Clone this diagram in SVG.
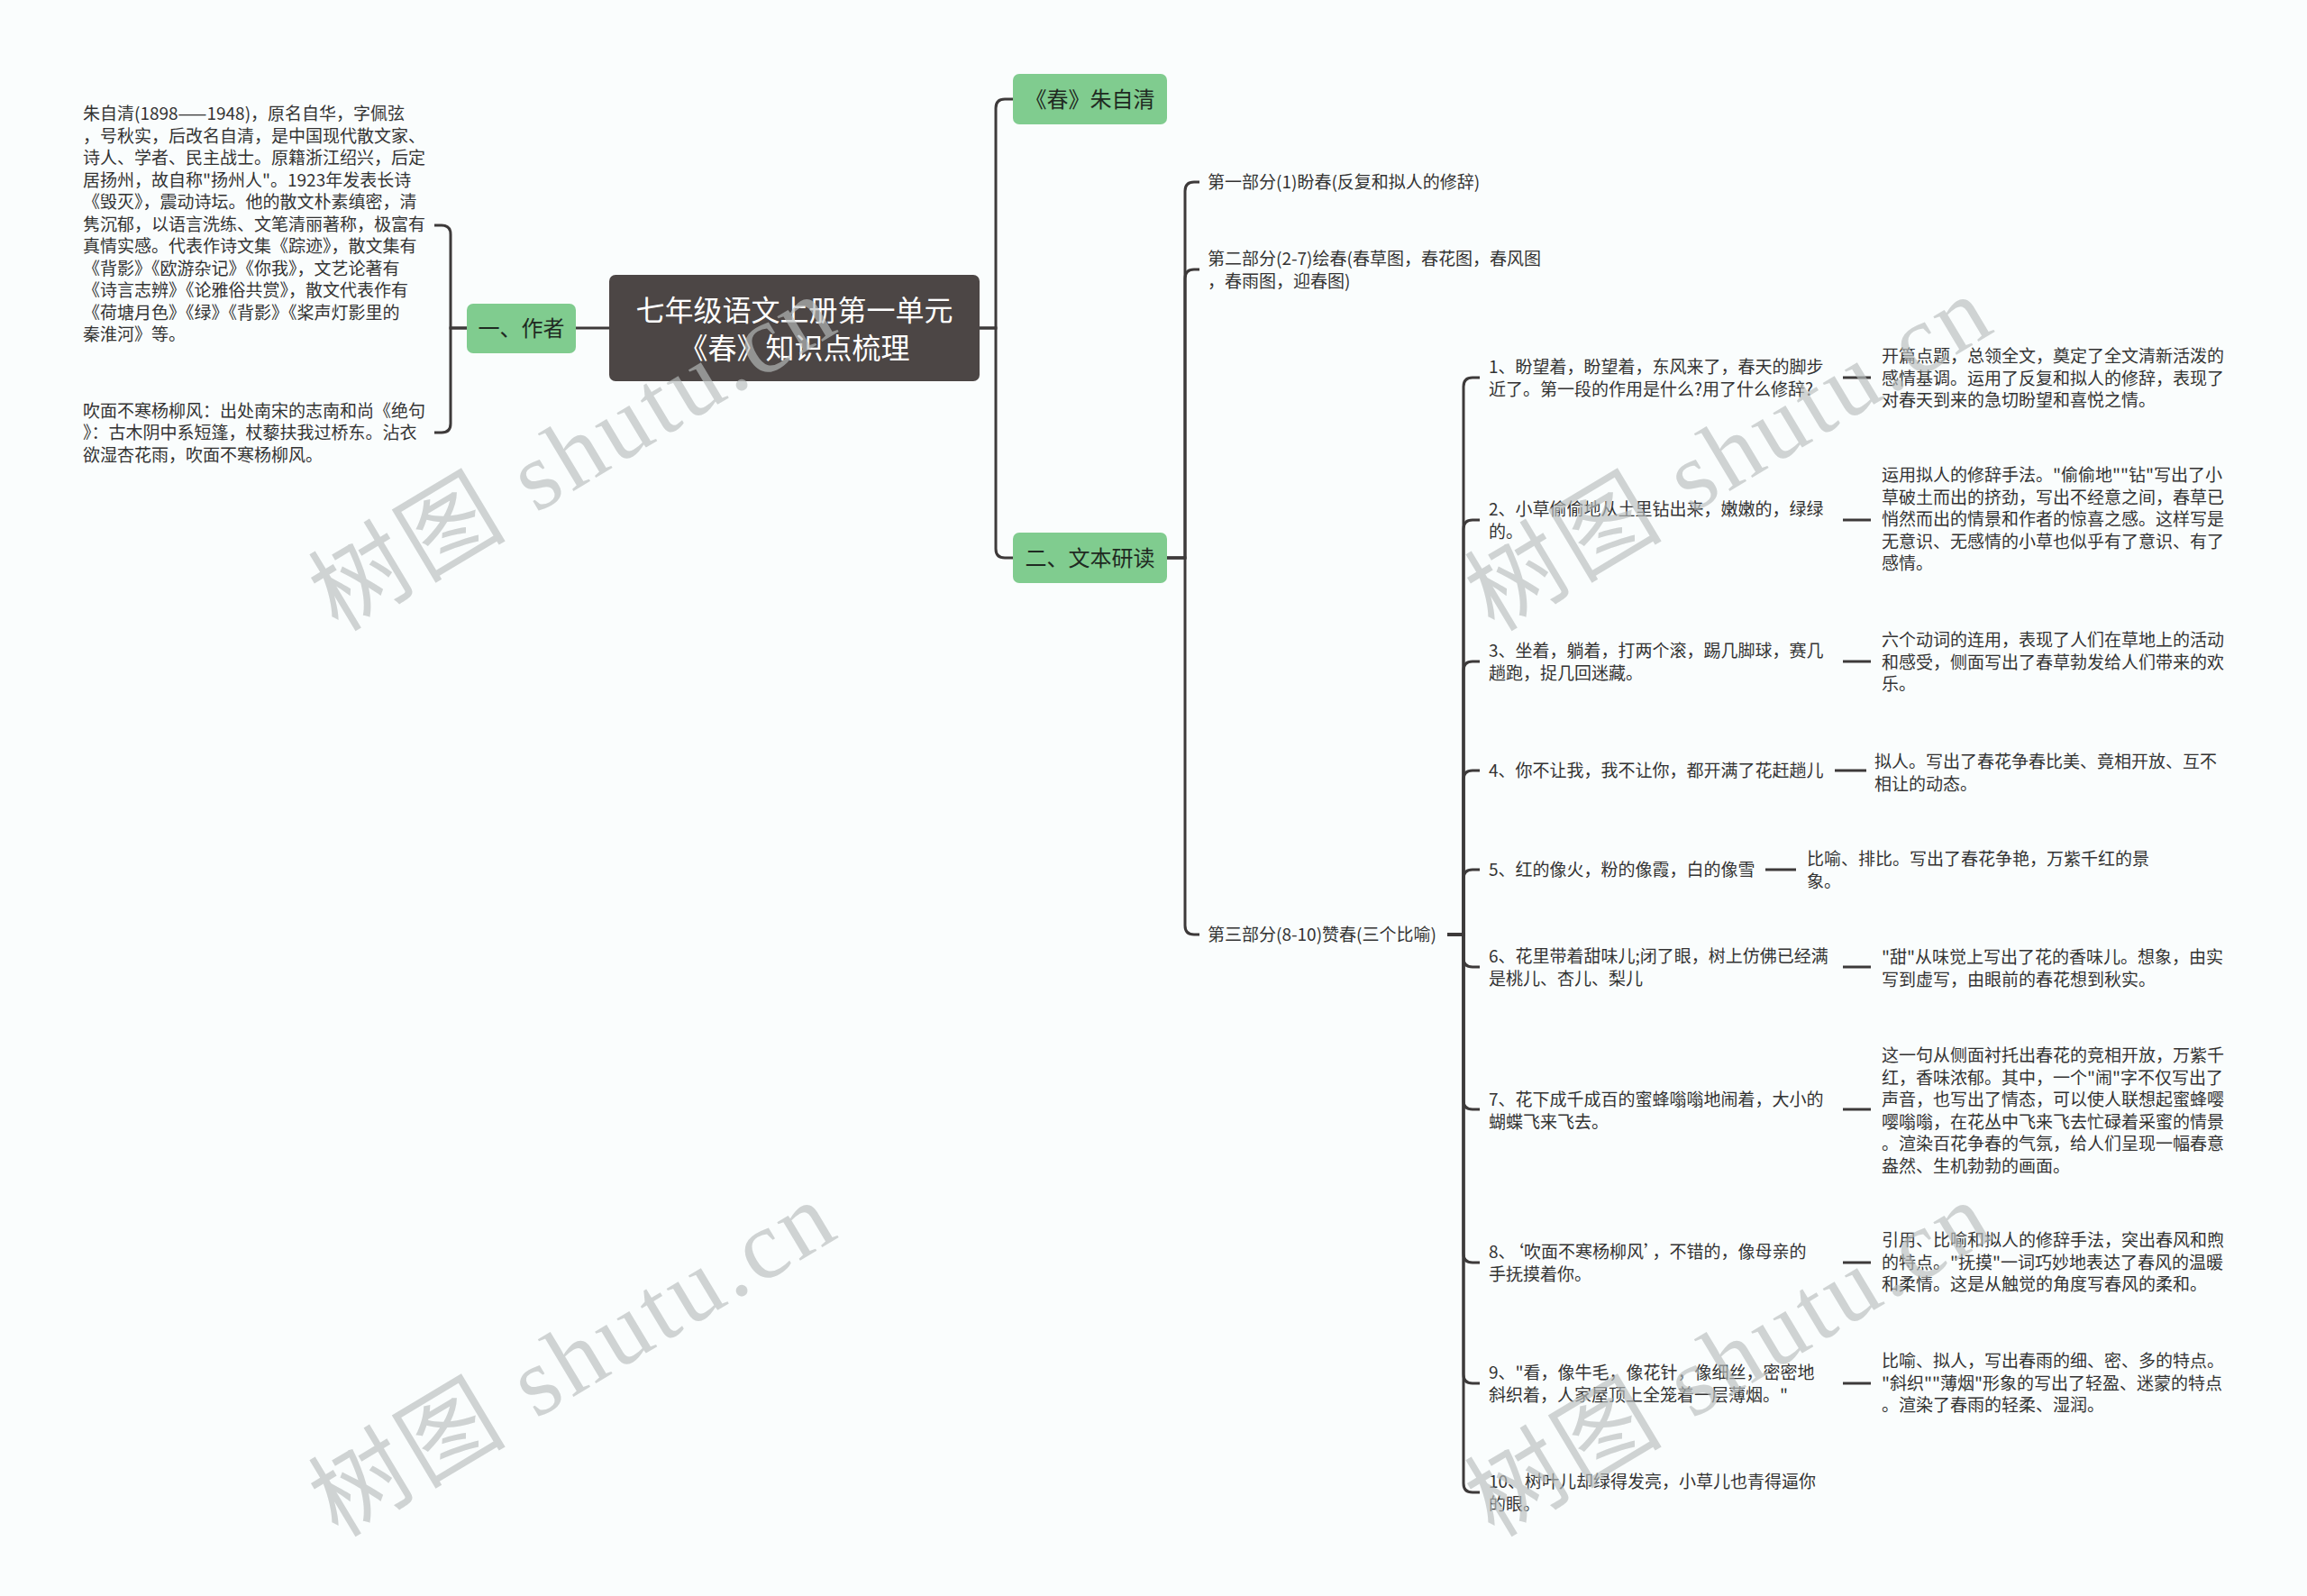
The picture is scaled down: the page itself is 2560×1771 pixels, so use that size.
<svg xmlns="http://www.w3.org/2000/svg" width="2560" height="1771" viewBox="0 0 2560 1771">
<style>
.t{font-family:"Noto Sans CJK SC","Noto Sans",sans-serif;font-size:19px;fill:#333333}
.gr{fill:#80cc8f}
.gt{font-family:"Noto Sans CJK SC","Noto Sans",sans-serif;font-size:24px;fill:#1f2a22;text-anchor:middle}
.rt{font-family:"Noto Sans CJK SC","Noto Sans",sans-serif;font-size:32px;fill:#ffffff;text-anchor:middle}
.ln{fill:none;stroke:#3d3a3a;stroke-width:3}
.wm{font-family:"Liberation Serif","Noto Sans CJK SC",serif;font-size:108px;fill:#b9bebe;opacity:0.65}
</style>
<rect x="0" y="0" width="2560" height="1771" fill="#fafdfd"/>
<g id="connectors" class="ln">
<path d="M1087,364 H1105 V120 Q1105,110 1115,110 H1124"/>
<path d="M1087,364 H1105 V609 Q1105,619 1115,619 H1124"/>
<path d="M676,364 H639"/>
<path d="M518,364 H500 V260 Q500,250 490,250 H482"/>
<path d="M518,364 H500 V470 Q500,480 490,480 H482"/>
<path d="M1295,619 H1315 V212 Q1315,202 1325,202 H1331"/>
<path d="M1295,619 H1315 V309 Q1315,299 1325,299 H1331"/>
<path d="M1295,619 H1315 V1027 Q1315,1037 1325,1037 H1331"/>
<path d="M1606,1037 H1624 V429 Q1624,419 1634,419 H1642"/>
<path d="M1606,1037 H1624 V587 Q1624,577 1634,577 H1642"/>
<path d="M1606,1037 H1624 V744 Q1624,734 1634,734 H1642"/>
<path d="M1606,1037 H1624 V865 Q1624,855 1634,855 H1642"/>
<path d="M1606,1037 H1624 V975 Q1624,965 1634,965 H1642"/>
<path d="M1606,1037 H1624 V1063 Q1624,1073 1634,1073 H1642"/>
<path d="M1606,1037 H1624 V1221 Q1624,1231 1634,1231 H1642"/>
<path d="M1606,1037 H1624 V1391 Q1624,1401 1634,1401 H1642"/>
<path d="M1606,1037 H1624 V1525 Q1624,1535 1634,1535 H1642"/>
<path d="M1606,1037 H1624 V1646 Q1624,1656 1634,1656 H1642"/>
<path d="M2045,419 H2076"/>
<path d="M2045,577 H2076"/>
<path d="M2045,734 H2076"/>
<path d="M2036,855 H2071"/>
<path d="M1959,965 H1993"/>
<path d="M2045,1073 H2076"/>
<path d="M2045,1231 H2076"/>
<path d="M2045,1401 H2076"/>
<path d="M2045,1535 H2076"/>
</g>
<g id="root">
<rect x="676" y="305" width="411" height="118" rx="7" fill="#4c4645"/>
<text class="rt" x="881.5" y="356">七年级语文上册第一单元</text>
<text class="rt" x="881.5" y="398">《春》知识点梳理</text>
</g>
<g id="node-chun">
<rect class="gr" x="1124" y="82" width="171" height="56" rx="7"/>
<text class="gt" x="1209.5" y="119">《春》朱自清</text>
</g>
<g id="node-author">
<rect class="gr" x="518" y="337" width="121" height="55" rx="7"/>
<text class="gt" x="578.5" y="373">一、作者</text>
</g>
<g id="node-reading">
<rect class="gr" x="1124" y="591" width="171" height="56" rx="7"/>
<text class="gt" x="1209.5" y="628">二、文本研读</text>
</g>
<g id="author-bio">
<text class="t" x="92" y="133">朱自清(1898——1948)，原名自华，字佩弦<tspan x="92" dy="24.5">，号秋实，后改名自清，是中国现代散文家、</tspan><tspan x="92" dy="24.5">诗人、学者、民主战士。原籍浙江绍兴，后定</tspan><tspan x="92" dy="24.5">居扬州，故自称"扬州人"。1923年发表长诗</tspan><tspan x="92" dy="24.5">《毁灭》，震动诗坛。他的散文朴素缜密，清</tspan><tspan x="92" dy="24.5">隽沉郁，以语言洗练、文笔清丽著称，极富有</tspan><tspan x="92" dy="24.5">真情实感。代表作诗文集《踪迹》，散文集有</tspan><tspan x="92" dy="24.5">《背影》《欧游杂记》《你我》，文艺论著有</tspan><tspan x="92" dy="24.5">《诗言志辨》《论雅俗共赏》，散文代表作有</tspan><tspan x="92" dy="24.5">《荷塘月色》《绿》《背影》《桨声灯影里的</tspan><tspan x="92" dy="24.5">秦淮河》等。</tspan></text>
</g>
<g id="author-poem">
<text class="t" x="92" y="462.5">吹面不寒杨柳风：出处南宋的志南和尚《绝句<tspan x="92" dy="24.5">》：古木阴中系短篷，杖藜扶我过桥东。沾衣</tspan><tspan x="92" dy="24.5">欲湿杏花雨，吹面不寒杨柳风。</tspan></text>
</g>
<g id="part1"><text class="t" x="1340" y="209">第一部分(1)盼春(反复和拟人的修辞)</text></g>
<g id="part2"><text class="t" x="1340" y="294">第二部分(2-7)绘春(春草图，春花图，春风图<tspan x="1340" dy="24.5">，春雨图，迎春图)</tspan></text></g>
<g id="part3"><text class="t" x="1340" y="1044">第三部分(8-10)赞春(三个比喻)</text></g>
<g id="item1"><text class="t" x="1652" y="414">1、盼望着，盼望着，东风来了，春天的脚步<tspan x="1652" dy="24.5">近了。第一段的作用是什么?用了什么修辞?</tspan></text></g>
<g id="note1"><text class="t" x="2088" y="402">开篇点题，总领全文，奠定了全文清新活泼的<tspan x="2088" dy="24.5">感情基调。运用了反复和拟人的修辞，表现了</tspan><tspan x="2088" dy="24.5">对春天到来的急切盼望和喜悦之情。</tspan></text></g>
<g id="item2"><text class="t" x="1652" y="572">2、小草偷偷地从土里钻出来，嫩嫩的，绿绿<tspan x="1652" dy="24.5">的。</tspan></text></g>
<g id="note2"><text class="t" x="2088" y="534">运用拟人的修辞手法。"偷偷地""钻"写出了小<tspan x="2088" dy="24.5">草破土而出的挤劲，写出不经意之间，春草已</tspan><tspan x="2088" dy="24.5">悄然而出的情景和作者的惊喜之感。这样写是</tspan><tspan x="2088" dy="24.5">无意识、无感情的小草也似乎有了意识、有了</tspan><tspan x="2088" dy="24.5">感情。</tspan></text></g>
<g id="item3"><text class="t" x="1652" y="729">3、坐着，躺着，打两个滚，踢几脚球，赛几<tspan x="1652" dy="24.5">趟跑，捉几回迷藏。</tspan></text></g>
<g id="note3"><text class="t" x="2088" y="717">六个动词的连用，表现了人们在草地上的活动<tspan x="2088" dy="24.5">和感受，侧面写出了春草勃发给人们带来的欢</tspan><tspan x="2088" dy="24.5">乐。</tspan></text></g>
<g id="item4"><text class="t" x="1652" y="862">4、你不让我，我不让你，都开满了花赶趟儿</text></g>
<g id="note4"><text class="t" x="2080" y="852">拟人。写出了春花争春比美、竟相开放、互不<tspan x="2080" dy="24.5">相让的动态。</tspan></text></g>
<g id="item5"><text class="t" x="1652" y="972">5、红的像火，粉的像霞，白的像雪</text></g>
<g id="note5"><text class="t" x="2005" y="960">比喻、排比。写出了春花争艳，万紫千红的景<tspan x="2005" dy="24.5">象。</tspan></text></g>
<g id="item6"><text class="t" x="1652" y="1068">6、花里带着甜味儿;闭了眼，树上仿佛已经满<tspan x="1652" dy="24.5">是桃儿、杏儿、梨儿</tspan></text></g>
<g id="note6"><text class="t" x="2088" y="1069">"甜"从味觉上写出了花的香味儿。想象，由实<tspan x="2088" dy="24.5">写到虚写，由眼前的春花想到秋实。</tspan></text></g>
<g id="item7"><text class="t" x="1652" y="1227">7、花下成千成百的蜜蜂嗡嗡地闹着，大小的<tspan x="1652" dy="24.5">蝴蝶飞来飞去。</tspan></text></g>
<g id="note7"><text class="t" x="2088" y="1178">这一句从侧面衬托出春花的竞相开放，万紫千<tspan x="2088" dy="24.5">红，香味浓郁。其中，一个"闹"字不仅写出了</tspan><tspan x="2088" dy="24.5">声音，也写出了情态，可以使人联想起蜜蜂嘤</tspan><tspan x="2088" dy="24.5">嘤嗡嗡，在花丛中飞来飞去忙碌着采蜜的情景</tspan><tspan x="2088" dy="24.5">。渲染百花争春的气氛，给人们呈现一幅春意</tspan><tspan x="2088" dy="24.5">盎然、生机勃勃的画面。</tspan></text></g>
<g id="item8"><text class="t" x="1652" y="1396">8、‘吹面不寒杨柳风’，不错的，像母亲的<tspan x="1652" dy="24.5">手抚摸着你。</tspan></text></g>
<g id="note8"><text class="t" x="2088" y="1383">引用、比喻和拟人的修辞手法，突出春风和煦<tspan x="2088" dy="24.5">的特点。"抚摸"一词巧妙地表达了春风的温暖</tspan><tspan x="2088" dy="24.5">和柔情。这是从触觉的角度写春风的柔和。</tspan></text></g>
<g id="item9"><text class="t" x="1652" y="1530">9、"看，像牛毛，像花针，像细丝，密密地<tspan x="1652" dy="24.5">斜织着，人家屋顶上全笼着一层薄烟。"</tspan></text></g>
<g id="note9"><text class="t" x="2088" y="1517">比喻、拟人，写出春雨的细、密、多的特点。<tspan x="2088" dy="24.5">"斜织""薄烟"形象的写出了轻盈、迷蒙的特点</tspan><tspan x="2088" dy="24.5">。渲染了春雨的轻柔、湿润。</tspan></text></g>
<g id="item10"><text class="t" x="1652" y="1651">10、树叶儿却绿得发亮，小草儿也青得逼你<tspan x="1652" dy="24.5">的眼。</tspan></text></g>
<g id="watermarks">
<text class="wm" x="375" y="702" textLength="650" lengthAdjust="spacing" transform="rotate(-31 375 702)">树图 shutu.cn</text>
<text class="wm" x="1658" y="702" textLength="650" lengthAdjust="spacing" transform="rotate(-31 1658 702)">树图 shutu.cn</text>
<text class="wm" x="375" y="1707" textLength="650" lengthAdjust="spacing" transform="rotate(-31 375 1707)">树图 shutu.cn</text>
<text class="wm" x="1658" y="1707" textLength="650" lengthAdjust="spacing" transform="rotate(-31 1658 1707)">树图 shutu.cn</text>
</g>
</svg>
